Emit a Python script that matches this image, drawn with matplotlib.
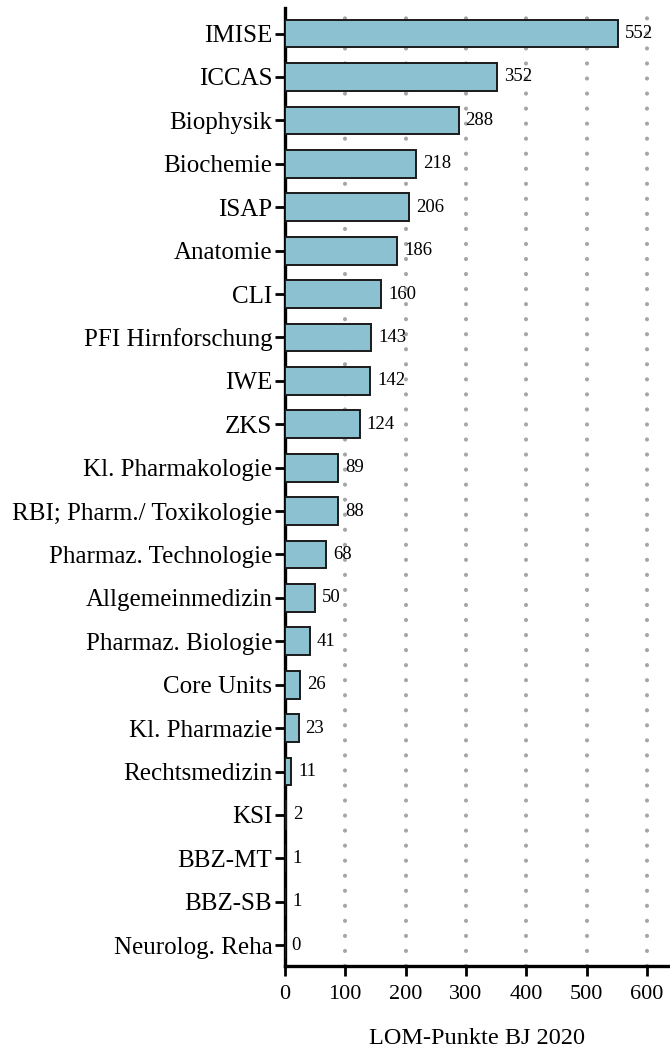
import matplotlib.pyplot as plt
import numpy as np

# LOM points per institute (BJ 2020)
institutes = ["IMISE", "ICCAS", "Biophysik", "Biochemie", "ISAP", "Anatomie", "CLI",
              "PFI Hirnforschung", "IWE", "ZKS", "Kl. Pharmakologie",
              "RBI; Pharm./ Toxikologie", "Pharmaz. Technologie", "Allgemeinmedizin",
              "Pharmaz. Biologie", "Core Units", "Kl. Pharmazie", "Rechtsmedizin",
              "KSI", "BBZ-MT", "BBZ-SB", "Neurolog. Reha"]
points = [552, 352, 288, 218, 206, 186, 160, 143, 142, 124, 89, 88, 68, 50, 41, 26,
          23, 11, 2, 1, 1, 0]
x_ticks = [0, 100, 200, 300, 400, 500, 600]

plt.rcParams['font.family'] = ['Liberation Serif', 'DejaVu Serif']

fig = plt.figure(figsize=(6.7, 10.5), dpi=100)
ax = fig.add_axes([0.425, 0.08, 0.575, 0.912])

y = np.arange(len(institutes))
bars = ax.barh(y, points, height=0.64, color='#8BC1D0', edgecolor='#1a1a1a',
               linewidth=1.4, zorder=3)

# value labels right of each bar
for yi, v in zip(y, points):
    ax.annotate(str(v), (v, yi), xytext=(5, 0), textcoords='offset points',
                va='center', ha='left', fontsize=13.5, zorder=4)

# dotted vertical grid
for xv in x_ticks[1:]:
    ax.axvline(xv, color='#A6A6A6', linewidth=3.0, linestyle=(0, (0.01, 3.6)),
               dash_capstyle='round', zorder=1)

ax.set_yticks(y)
ax.set_yticklabels(institutes, fontsize=18)
ax.set_ylim(21.48, -0.58)
ax.set_xlim(0, 638)
ax.set_xticks(x_ticks)
ax.tick_params(axis='x', labelsize=16, width=2, length=7, pad=7)
ax.tick_params(axis='y', width=2, length=7, pad=2)
ax.set_xlabel("LOM-Punkte BJ 2020", fontsize=17.5, labelpad=17)

for side in ['top', 'right']:
    ax.spines[side].set_visible(False)
for side in ['left', 'bottom']:
    ax.spines[side].set_linewidth(2.4)

fig.savefig("out.png", dpi=100)
